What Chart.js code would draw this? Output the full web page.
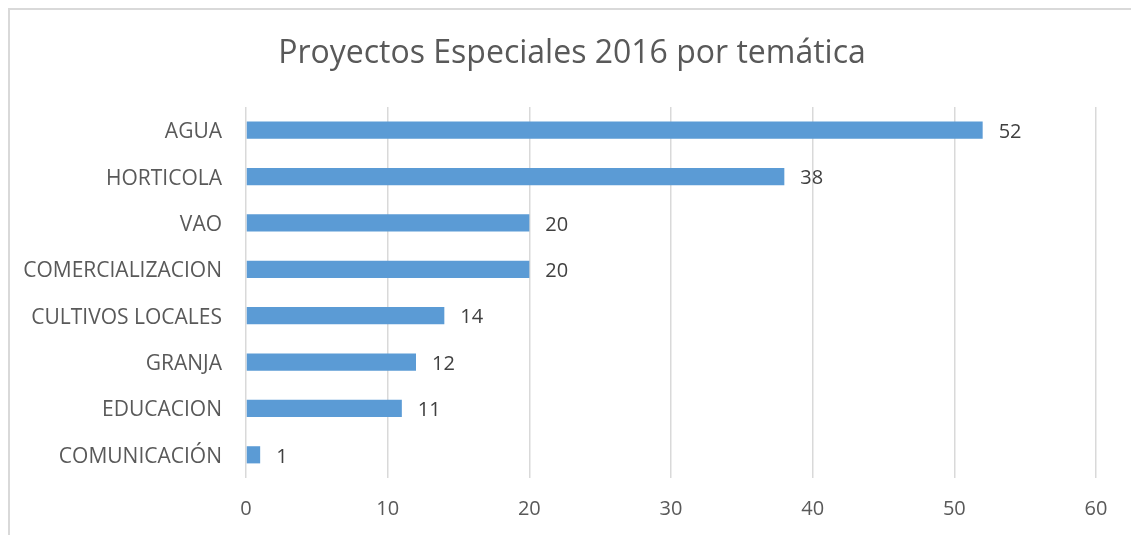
<!DOCTYPE html>
<html>
<head>
<meta charset="utf-8">
<script src="https://cdn.jsdelivr.net/npm/chart.js@4"></script>
<style>
    body { margin: 0; background: #ffffff; }
    .frame {
        position: absolute; left: 8px; top: 8px; width: 1200px; height: 600px;
        border-left: 2px solid #d9d9d9; border-top: 2px solid #d9d9d9;
    }
    .chart-box { position: absolute; left: 0; top: 0; width: 1131px; height: 535px; }
</style>
</head>
<body>
<div class="frame"></div>
<div class="chart-box"><canvas id="tematica" width="1131" height="535"></canvas></div>
<script>
const chartTitle = 'Proyectos Especiales 2016 por temática'
const categories = ['AGUA', 'HORTICOLA', 'VAO', 'COMERCIALIZACION', 'CULTIVOS LOCALES', 'GRANJA', 'EDUCACION', 'COMUNICACIÓN']
const proyectos = [52, 38, 20, 20, 14, 12, 11, 1]
const xTicks = [0, 10, 20, 30, 40, 50, 60]

const font = "'Open Sans', sans-serif"

// title is drawn by hand so it can sit a little right of the plot centre, like the original
const titleText = {
    id: 'titleText',
    afterDraw(chart) {
        const ctx = chart.ctx
        ctx.save()
        ctx.font = '32px ' + font
        ctx.fillStyle = '#595959'
        ctx.textAlign = 'center'
        ctx.textBaseline = 'middle'
        ctx.fillText(chartTitle, 572, 54)
        ctx.restore()
    }
}

// draws the value to the right of every bar
const valueLabels = {
    id: 'valueLabels',
    afterDatasetsDraw(chart) {
        const ctx = chart.ctx
        const meta = chart.getDatasetMeta(0)
        ctx.save()
        ctx.font = '20px ' + font
        ctx.fillStyle = '#404040'
        ctx.textAlign = 'left'
        ctx.textBaseline = 'middle'
        meta.data.forEach((bar, i) => {
            ctx.fillText(String(proyectos[i]), bar.x + 16, bar.y + 2)
        })
        ctx.restore()
    }
}

new Chart(document.getElementById('tematica').getContext('2d'), {
    type: 'bar',
    data: {
        labels: categories,
        datasets: [{
            label: 'Proyectos',
            data: proyectos,
            backgroundColor: '#5b9bd5',
            borderWidth: 0,
            barPercentage: 0.37,
            categoryPercentage: 1
        }]
    },
    options: {
        indexAxis: 'y',
        responsive: false,
        animation: false,
        devicePixelRatio: 1,
        layout: { padding: { left: 0, right: 35, top: 107, bottom: 0 } },
        plugins: {
            legend: { display: false },
            tooltip: { enabled: false },
            title: { display: false }
        },
        scales: {
            x: {
                min: 0,
                max: 60,
                afterBuildTicks(scale) {
                    scale.ticks = xTicks.map(v => ({ value: v }))
                },
                afterFit(scale) {
                    scale.height = 57
                },
                grid: { color: '#d9d9d9', lineWidth: 1.5, drawTicks: false },
                border: { display: false },
                ticks: {
                    color: '#595959',
                    font: { family: font, size: 20 },
                    padding: 19
                }
            },
            y: {
                afterFit(scale) {
                    scale.width = 246
                },
                grid: { display: false },
                border: { display: false },
                ticks: {
                    color: '#595959',
                    font: { family: font, size: 21 },
                    padding: 16,
                    labelOffset: 2
                }
            }
        }
    },
    plugins: [valueLabels, titleText]
})
</script>
</body>
</html>
